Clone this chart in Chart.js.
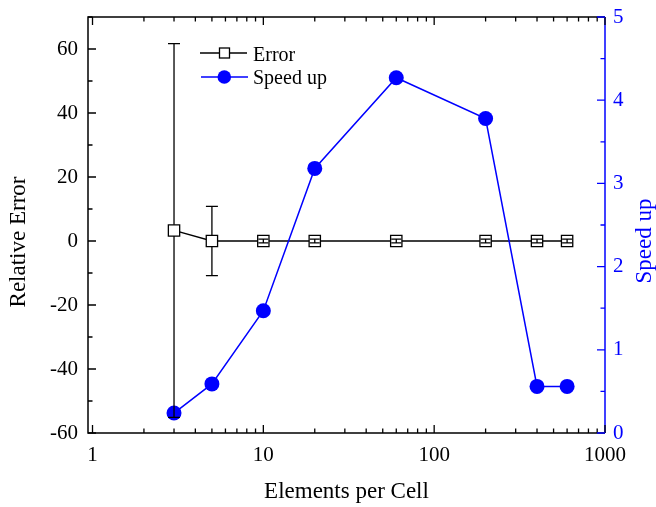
<!DOCTYPE html>
<html>
<head>
<meta charset="utf-8">
<script src="https://cdn.jsdelivr.net/npm/chart.js@4/dist/chart.umd.min.js"></script>
<style>
  html, body { margin: 0; padding: 0; background: #fff; }
  canvas { display: block; }
</style>
</head>
<body>
<canvas id="chart" width="656" height="507"></canvas>
<script>
// data
const elements = [3, 5, 10, 20, 60, 200, 400, 600];
const relError = [3.3, 0, 0, 0, 0, 0, 0, 0];
const errBars = [58.4, 10.8, 0.6, 0.6, 0.6, 0.6, 0.6, 0.6];
const speedUp = [0.24, 0.59, 1.47, 3.18, 4.27, 3.78, 0.56, 0.56];

// tick values
const xTicks = [1, 2, 3, 4, 5, 6, 7, 8, 9, 10, 20, 30, 40, 50, 60, 70, 80, 90,
                100, 200, 300, 400, 500, 600, 700, 800, 900, 1000];
const xLabels = [1, 10, 100, 1000];
const yTicks = [-60, -50, -40, -30, -20, -10, 0, 10, 20, 30, 40, 50, 60, 70];
const yLabels = [-60, -40, -20, 0, 20, 40, 60];
const y2Ticks = [0, 0.5, 1, 1.5, 2, 2.5, 3, 3.5, 4, 4.5, 5];
const y2Labels = [0, 1, 2, 3, 4, 5];

const BLUE = '#0000ff';
const FONT = 'Liberation Serif';

const frame = {
  id: 'frame',
  afterDatasetsDraw(chart) {
    const ctx = chart.ctx;
    const a = chart.chartArea;
    const x = chart.scales.x, y = chart.scales.y, y2 = chart.scales.y2;
    ctx.save();

    // error bars on the Error series
    const meta = chart.getDatasetMeta(0);
    ctx.strokeStyle = '#000';
    ctx.lineWidth = 1.3;
    elements.forEach((e, i) => {
      const px = meta.data[i].x;
      const py = meta.data[i].y;
      const top = y.getPixelForValue(relError[i] + errBars[i]);
      const bot = y.getPixelForValue(relError[i] - errBars[i]);
      const half = 5.6;
      ctx.beginPath();
      if (py - top > half) {
        ctx.moveTo(px, top); ctx.lineTo(px, py - half);
        ctx.moveTo(px, py + half); ctx.lineTo(px, bot);
      } else {
        ctx.moveTo(px, top); ctx.lineTo(px, bot);
      }
      const cw = py - top > half ? 6 : 5;
      ctx.moveTo(px - cw, top); ctx.lineTo(px + cw, top);
      ctx.moveTo(px - cw, bot); ctx.lineTo(px + cw, bot);
      ctx.stroke();
    });

    // frame
    ctx.lineWidth = 1.5;
    ctx.strokeStyle = '#000';
    ctx.beginPath();
    ctx.moveTo(a.right, a.top); ctx.lineTo(a.left, a.top);
    ctx.lineTo(a.left, a.bottom); ctx.lineTo(a.right, a.bottom);
    ctx.stroke();
    ctx.strokeStyle = BLUE;
    ctx.beginPath();
    ctx.moveTo(a.right, a.top); ctx.lineTo(a.right, a.bottom);
    ctx.stroke();

    // inward tick marks
    ctx.lineWidth = 1.3;
    ctx.strokeStyle = '#000';
    ctx.beginPath();
    x.ticks.forEach(t => {
      const px = x.getPixelForValue(t.value);
      const len = xLabels.includes(t.value) ? 8 : 4.5;
      ctx.moveTo(px, a.bottom); ctx.lineTo(px, a.bottom - len);
      ctx.moveTo(px, a.top); ctx.lineTo(px, a.top + len);
    });
    y.ticks.forEach(t => {
      const py = y.getPixelForValue(t.value);
      const len = yLabels.includes(t.value) ? 8 : 4.5;
      ctx.moveTo(a.left, py); ctx.lineTo(a.left + len, py);
    });
    ctx.stroke();
    ctx.strokeStyle = BLUE;
    ctx.beginPath();
    y2.ticks.forEach(t => {
      const py = y2.getPixelForValue(t.value);
      const len = y2Labels.includes(t.value) ? 8 : 4.5;
      ctx.moveTo(a.right, py); ctx.lineTo(a.right - len, py);
    });
    ctx.stroke();

    // legend
    const lx = a.left + 112, ly = a.top + 36;
    ctx.lineWidth = 1.3;
    ctx.strokeStyle = '#000';
    ctx.beginPath();
    ctx.moveTo(lx, ly); ctx.lineTo(lx + 47, ly);
    ctx.stroke();
    ctx.fillStyle = '#fff';
    ctx.fillRect(lx + 19.5, ly - 5, 10, 10);
    ctx.strokeRect(lx + 19.5, ly - 5, 10, 10);
    ctx.strokeStyle = BLUE;
    ctx.lineWidth = 1.5;
    ctx.beginPath();
    ctx.moveTo(lx + 1, ly + 24); ctx.lineTo(lx + 48, ly + 24);
    ctx.stroke();
    ctx.fillStyle = BLUE;
    ctx.beginPath();
    ctx.arc(lx + 24.3, ly + 24, 6.8, 0, Math.PI * 2);
    ctx.fill();
    ctx.font = '20px "' + FONT + '"';
    ctx.textAlign = 'left';
    ctx.textBaseline = 'alphabetic';
    ctx.fillStyle = '#000';
    ctx.fillText('Error', lx + 53, ly + 7.5);
    ctx.fillText('Speed up', lx + 53, ly + 30.5);

    // axis titles
    ctx.font = '23px "' + FONT + '"';
    ctx.textAlign = 'center';
    ctx.textBaseline = 'middle';
    ctx.fillStyle = '#000';
    ctx.fillText('Elements per Cell', (a.left + a.right) / 2, 492);
    ctx.save();
    ctx.translate(19, 242);
    ctx.rotate(-Math.PI / 2);
    ctx.fillText('Relative Error', 0, 0);
    ctx.restore();
    ctx.save();
    ctx.fillStyle = BLUE;
    ctx.translate(645, 241);
    ctx.rotate(-Math.PI / 2);
    ctx.fillText('Speed up', 0, 0);
    ctx.restore();

    ctx.restore();
  }
};

function noPad(s) {
  s.paddingTop = 0; s.paddingBottom = 0;
  s.paddingLeft = 0; s.paddingRight = 0;
}

new Chart(document.getElementById('chart'), {
  type: 'line',
  data: {
    datasets: [
      {
        label: 'Error',
        data: elements.map((e, i) => ({ x: e, y: relError[i] })),
        yAxisID: 'y',
        order: 2,
        borderColor: '#000',
        borderWidth: 1.3,
        pointStyle: 'rect',
        pointRadius: 8,
        pointBackgroundColor: '#fff',
        pointBorderColor: '#000',
        pointBorderWidth: 1.3,
        tension: 0
      },
      {
        label: 'Speed up',
        data: elements.map((e, i) => ({ x: e, y: speedUp[i] })),
        yAxisID: 'y2',
        order: 1,
        borderColor: BLUE,
        borderWidth: 1.5,
        pointStyle: 'circle',
        pointRadius: 7.5,
        pointBackgroundColor: BLUE,
        pointBorderColor: BLUE,
        pointBorderWidth: 0,
        tension: 0
      }
    ]
  },
  options: {
    responsive: false,
    devicePixelRatio: 1,
    animation: false,
    layout: { padding: { top: 17, left: 0, right: 0, bottom: 0 } },
    plugins: {
      legend: { display: false },
      tooltip: { enabled: false }
    },
    scales: {
      x: {
        type: 'logarithmic',
        min: 0.941,
        max: 1000,
        grid: { display: false },
        border: { display: false },
        afterBuildTicks: s => { s.ticks = xTicks.map(v => ({ value: v })); },
        afterFit: s => { s.height = 74; noPad(s); },
        ticks: {
          autoSkip: false,
          maxRotation: 0,
          padding: 2,
          color: '#000',
          font: { family: FONT, size: 21 },
          callback: v => xLabels.includes(v) ? String(v) : ''
        }
      },
      y: {
        position: 'left',
        min: -60,
        max: 70,
        grid: { display: false },
        border: { display: false },
        afterBuildTicks: s => { s.ticks = yTicks.map(v => ({ value: v })); },
        afterFit: s => { s.width = 88; noPad(s); },
        ticks: {
          autoSkip: false,
          padding: 2,
          color: '#000',
          font: { family: FONT, size: 21 },
          callback: v => yLabels.includes(v) ? String(v) : ''
        }
      },
      y2: {
        position: 'right',
        min: 0,
        max: 5,
        grid: { display: false },
        border: { display: false },
        afterBuildTicks: s => { s.ticks = y2Ticks.map(v => ({ value: v })); },
        afterFit: s => { s.width = 51; noPad(s); },
        ticks: {
          autoSkip: false,
          padding: 0,
          color: BLUE,
          font: { family: FONT, size: 21 },
          callback: v => y2Labels.includes(v) ? String(v) : ''
        }
      }
    }
  },
  plugins: [frame]
});
</script>
</body>
</html>
